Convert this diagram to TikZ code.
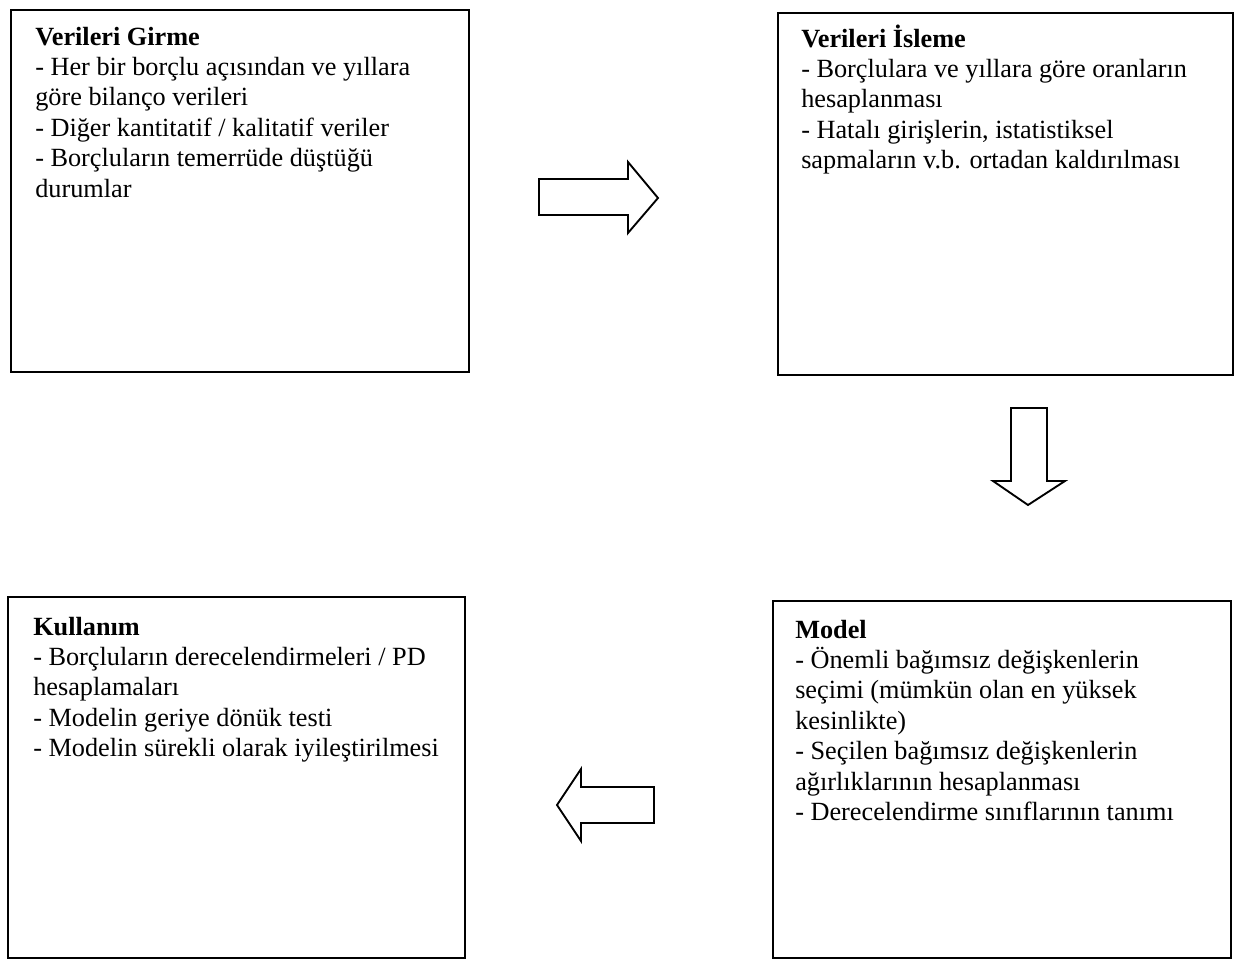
\documentclass[tikz,border=0pt]{standalone}
\usepackage{fontspec}
\setmainfont{Liberation Serif}
\begin{document}
\begin{tikzpicture}[x=0.75pt,y=-0.75pt,
  box/.style={draw, line width=1.5pt, inner sep=0pt, outer sep=0pt},
  txt/.style={anchor=base west, align=left, inner sep=0pt, font=\fontsize{19.7}{22.8}\selectfont},
  barrow/.style={draw, line width=1.4pt, line join=miter}]
\useasboundingbox (0,0) rectangle (1240,960);
% boxes
\node[box, minimum width=0.75pt*458, minimum height=0.75pt*362] (b1) at (240,191) {};
\node[box, minimum width=0.75pt*455, minimum height=0.75pt*362] (b2) at (1005.5,194) {};
\node[box, minimum width=0.75pt*457, minimum height=0.75pt*361] (b3) at (236.5,777.5) {};
\node[box, minimum width=0.75pt*458, minimum height=0.75pt*357] (b4) at (1002,779.5) {};
% texts (anchored at the baseline of their last line)
\node[txt] (t1) at (35,197) {\textbf{Verileri Girme}\\
- Her bir borçlu açısından ve yıllara\\
göre bilanço verileri\\
- Diğer kantitatif / kalitatif veriler\\
- Borçluların temerrüde düştüğü\\
durumlar};
\node[txt] (t2) at (801,168.6) {\textbf{Verileri İsleme}\\
- Borçlulara ve yıllara göre oranların\\
hesaplanması\\
- Hatalı girişlerin, istatistiksel\\
sapmaların v.b. ortadan kaldırılması};
\node[txt] (t3) at (33,756.6) {\textbf{Kullanım}\\
- Borçluların derecelendirmeleri / PD\\
hesaplamaları\\
- Modelin geriye dönük testi\\
- Modelin sürekli olarak iyileştirilmesi};
\node[txt] (t4) at (795,820.4) {\textbf{Model}\\
- Önemli bağımsız değişkenlerin\\
seçimi (mümkün olan en yüksek\\
kesinlikte)\\
- Seçilen bağımsız değişkenlerin\\
ağırlıklarının hesaplanması\\
- Derecelendirme sınıflarının tanımı};
% block arrows
\draw[barrow] (539,179) -- (628,179) -- (628,162) -- (658,198) -- (628,233) -- (628,215) -- (539,215) -- cycle;
\draw[barrow] (1011,408) -- (1047,408) -- (1047,481) -- (1065,481) -- (1028,505) -- (993,481) -- (1011,481) -- cycle;
\draw[barrow] (654,787) -- (581,787) -- (581,769) -- (557,805) -- (581,841) -- (581,823) -- (654,823) -- cycle;
\end{tikzpicture}
\end{document}
